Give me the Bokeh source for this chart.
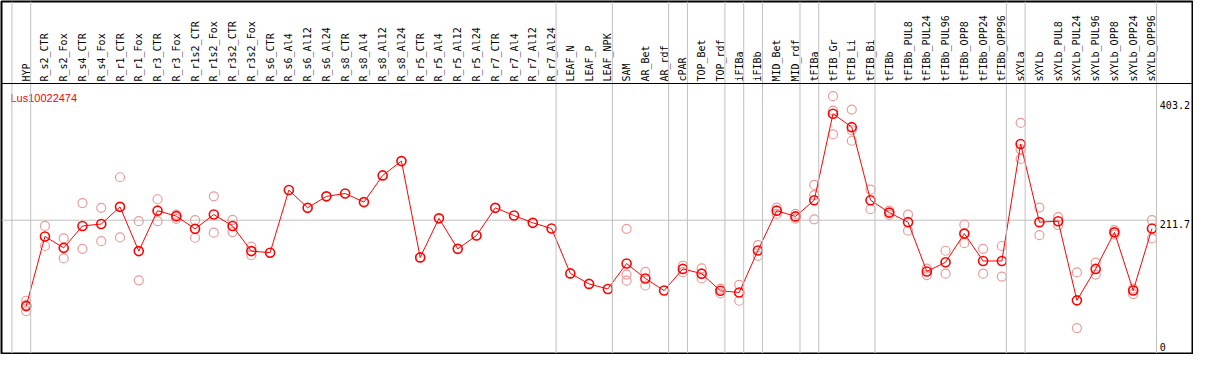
import numpy as np
from bokeh.plotting import figure
from bokeh.models import Range1d, Span
from bokeh.core.properties import value
from bokeh.embed import file_html
from bokeh.resources import INLINE

title_text = "Lus10022474"

categories = [
    "HYP", "R_s2_CTR", "R_s2_Fox", "R_s4_CTR", "R_s4_Fox", "R_r1_CTR", "R_r1_Fox",
    "R_r3_CTR", "R_r3_Fox", "R_r1s2_CTR", "R_r1s2_Fox", "R_r3s2_CTR", "R_r3s2_Fox",
    "R_s6_CTR", "R_s6_Al4", "R_s6_Al12", "R_s6_Al24", "R_s8_CTR", "R_s8_Al4",
    "R_s8_Al12", "R_s8_Al24", "R_r5_CTR", "R_r5_Al4", "R_r5_Al12", "R_r5_Al24",
    "R_r7_CTR", "R_r7_Al4", "R_r7_Al12", "R_r7_Al24", "LEAF_N", "LEAF_P", "LEAF_NPK",
    "SAM", "AR_Bet", "AR_rdf", "cPAR", "TOP_Bet", "TOP_rdf", "iFIBa", "iFIBb",
    "MID_Bet", "MID_rdf", "tFIBa", "tFIB_Gr", "tFIB_Li", "tFIB_Bi", "tFIBb",
    "tFIBb_PUL8", "tFIBb_PUL24", "tFIBb_PUL96", "tFIBb_OPP8", "tFIBb_OPP24",
    "tFIBb_OPP96", "sXYLa", "sXYLb", "sXYLb_PUL8", "sXYLb_PUL24", "sXYLb_PUL96",
    "sXYLb_OPP8", "sXYLb_OPP24", "sXYLb_OPP96",
]

means = [
    74.1, 185.7, 167.4, 202.5, 205.6, 233.1, 162.2, 227.0, 218.2, 197.9, 220.8,
    202.5, 162.2, 159.7, 260.0, 231.5, 249.9, 254.5, 240.7, 283.5, 306.4, 152.1,
    214.7, 165.8, 187.2, 231.5, 219.3, 207.5, 198.4, 126.5, 109.7, 101.6, 142.3,
    118.4, 99.0, 133.7, 126.1, 98.6, 96.0, 163.2, 227.0, 217.8, 243.8, 382.2,
    360.8, 243.8, 223.9, 208.6, 129.6, 144.4, 190.3, 146.4, 146.4, 333.9, 208.6,
    210.1, 83.3, 133.7, 192.3, 99.0, 198.4,
]

replicates = [
    [82.7, 76.1, 66.2], [202.5, 170.4], [182.6, 150.5], [239.2, 165.8],
    [231.5, 178.1], [280.5, 184.2], [210.1, 115.4], [245.3, 210.1],
    [220.8, 213.7], [211.7, 183.6], [249.9, 191.8], [212.1, 192.7],
    [169.3, 155.6], [], [], [], [], [], [], [], [], [], [], [], [], [], [], [],
    [], [], [], [], [197.9, 124.6, 114.8], [129.1, 107.1], [], [138.8, 128.5],
    [134.6, 118.4], [102.1, 94.5], [108.2, 82.7], [171.9, 154.5], [232.0, 221.8],
    [221.8, 214.1], [268.2, 251.9, 213.2], [410.4, 387.4, 349.2],
    [389.0, 355.8, 339.0], [260.6, 229.4], [227.0, 220.2], [220.8, 194.9],
    [134.2, 123.9], [162.8, 126.1], [204.5, 175.0], [165.8, 126.1],
    [170.4, 121.5], [367.6, 325.2, 309.9], [232.0, 187.7], [216.7, 204.0],
    [128.1, 39.0], [143.8, 124.6], [195.8, 188.7], [102.1, 93.4], [211.7, 182.6],
]

group_ends = [-1, 0, 28, 31, 34, 35, 37, 38, 39, 41, 42, 45, 52, 53, 60]

tick_values = [0, 211.7, 403.2]
tick_labels = ["0", "211.7", "403.2"]
tick_baselines = ["bottom", "top", "top"]
grid_values = [211.7]

# ---- layout ----
W, H = 1193, 354
data_lo, data_hi = -1.8, 430.7
frame_h = H - 2
header_px = 82
units_per_px = (data_hi - data_lo) / (frame_h - header_px)
y_top = data_hi + header_px * units_per_px

x = np.arange(len(categories))

p = figure(width=W, height=H, output_backend="svg", toolbar_location=None,
           x_range=Range1d(-1.316, 62.16), y_range=Range1d(data_lo, y_top),
           min_border_left=1, min_border_right=1, min_border_top=1, min_border_bottom=1)
p.axis.visible = False
p.grid.visible = False
p.outline_line_color = "black"
p.outline_line_width = 2
p.background_fill_color = "white"
p.border_fill_color = "white"

gray = "#c0c0c0"
for g in group_ends:
    p.add_layout(Span(location=g + 0.24, dimension="height", line_color=gray, line_width=1))
for gv in grid_values:
    p.segment(x0=[-1.316], y0=[gv], x1=[60.3], y1=[gv], line_color=gray, line_width=1)

p.add_layout(Span(location=data_hi, dimension="width", line_color="black", line_width=1))

# header labels
p.text(x=x, y=[data_hi + 2 * units_per_px] * len(categories), text=categories,
       angle=np.pi / 2, text_font=value("DejaVu Sans Mono"), text_font_size="10px",
       text_align="left", text_baseline="middle", text_color="black")

# title
p.text(x=[-0.84], y=[data_hi - 8 * units_per_px], text=[title_text],
       text_font=value("Liberation Sans"), text_font_size="11px",
       text_align="left", text_baseline="top", text_color="red")

# right tick labels
for tv, tl, tb in zip(tick_values, tick_labels, tick_baselines):
    yy = tv + (1.5 * units_per_px if tb == "bottom" else 0)
    p.text(x=[60.42], y=[yy], text=[tl], text_font=value("DejaVu Sans Mono"),
           text_font_size="10px", text_align="left", text_baseline=tb, text_color="black")

# replicates
rx = [i for i, reps in enumerate(replicates) for _ in reps]
ry = [v for reps in replicates for v in reps]
p.scatter(rx, ry, marker="circle", size=9, fill_color=None, line_color="#ec9a9a", line_width=1.2)

# mean line and markers
p.line(x, means, line_color="red", line_width=1)
p.scatter(x, means, marker="circle", size=9, fill_color=None, line_color="red", line_width=1.6)

open("out.html", "w").write(file_html(p, INLINE))
